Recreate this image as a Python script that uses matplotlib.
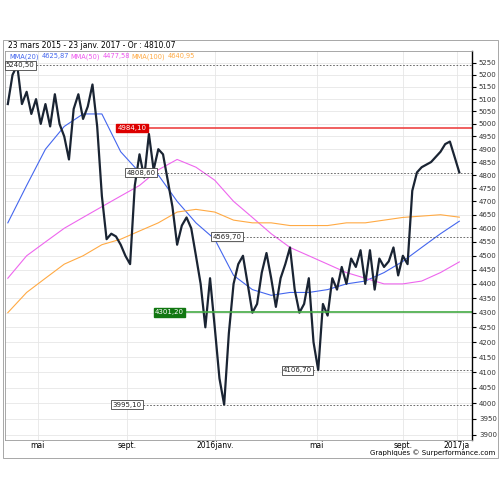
import numpy as np
import matplotlib.pyplot as plt

price = [5080, 5200, 5240, 5080, 5130, 5040, 5100, 5000, 5080, 4990, 5120, 5000, 4950, 4860,
         5060, 5120, 5020, 5070, 5160, 4990, 4720, 4560, 4580, 4570, 4540, 4500, 4470, 4760,
         4880, 4790, 4960, 4820, 4900, 4880, 4780, 4680, 4540, 4610, 4640, 4600, 4500, 4400,
         4250, 4420, 4250, 4080, 3995, 4230, 4400, 4470, 4500, 4400, 4300, 4330, 4440, 4510,
         4420, 4320, 4420, 4470, 4530, 4380, 4300, 4330, 4420, 4200, 4107, 4330, 4290, 4420,
         4380, 4460, 4400, 4490, 4460, 4520, 4400, 4520, 4380, 4490, 4460, 4480, 4530, 4430,
         4500, 4470, 4740, 4810, 4830, 4840, 4850, 4870, 4890, 4920, 4930, 4870, 4810]
ma_idx = [0, 4, 8, 12, 16, 20, 24, 28, 32, 36, 40, 44, 48, 52, 56, 60, 64, 68, 72, 76, 80, 84, 88, 92, 96]
mma20 = [4620, 4760, 4900, 4990, 5040, 5040, 4890, 4810, 4800, 4700, 4620, 4560, 4430, 4380,
         4360, 4370, 4370, 4380, 4400, 4410, 4440, 4480, 4530, 4580, 4626]
mma50 = [4420, 4500, 4550, 4600, 4640, 4680, 4720, 4760, 4820, 4860, 4830, 4780, 4700, 4640,
         4580, 4530, 4500, 4470, 4440, 4420, 4400, 4400, 4410, 4440, 4478]
mma100 = [4300, 4370, 4420, 4470, 4500, 4540, 4560, 4590, 4620, 4660, 4670, 4660, 4630, 4620,
          4620, 4610, 4610, 4610, 4620, 4620, 4630, 4640, 4645, 4650, 4641]

month_pos = [6.4, 25.3, 44, 65.7, 84, 95.5]
month_lbl = ['mai', 'sept.', '2016janv.', 'mai', 'sept.', '2017ja']

# level: (value, label x-position, colour of box or None)
levels = [(5240.50, -0.4, None), (4984.10, 23.3, 'red'), (4808.60, 25.3, None),
          (4569.70, 43.6, None), (4301.20, 31.3, 'green'), (4106.70, 58.5, None),
          (3995.10, 22.3, None)]

fig = plt.figure(figsize=(5, 5), dpi=100)
ax = fig.add_axes([0.01, 0.12, 0.934, 0.778])
ax.set_yscale('log')
x = np.arange(len(price))
ax.plot(ma_idx, mma20, color='#4466ee', lw=0.8)
ax.plot(ma_idx, mma50, color='#ee66ee', lw=0.8)
ax.plot(ma_idx, mma100, color='#ffaa44', lw=0.8)
ax.plot(x, price, color='#1a2433', lw=1.6)

for v, lx, c in levels:
    txt = ('%.2f' % v).replace('.', ',')
    if c == 'red':
        ax.hlines(v, lx, 98.7, color='#ee4444', lw=1.2)
        ax.text(lx, v, txt, fontsize=5, color='white', va='center',
                bbox=dict(fc='#dd0000', ec='#dd0000', pad=1))
    elif c == 'green':
        ax.hlines(v, lx, 98.7, color='#44aa44', lw=1.2)
        ax.text(lx, v, txt, fontsize=5, color='white', va='center',
                bbox=dict(fc='#117711', ec='#117711', pad=1))
    else:
        ax.hlines(v, lx, 98.7, color='#555555', lw=0.6, ls=(0, (2, 2)))
        ax.text(lx, v, txt, fontsize=5, color='#222222', va='center',
                bbox=dict(fc='white', ec='#444444', pad=1, lw=0.6))

ax.set_xlim(-0.6, 98.7)
ax.set_ylim(3884, 5300)
ax.set_xticks(month_pos)
ax.set_xticklabels(month_lbl, fontsize=5.5)
ticks = np.arange(3900, 5251, 50)
ax.set_yticks(ticks)
ax.set_yticklabels([str(t) for t in ticks])
ax.yaxis.set_minor_locator(plt.NullLocator())
ax.yaxis.tick_right()
ax.tick_params(axis='y', labelsize=5, length=3, pad=2, labelcolor='#333333')
ax.tick_params(axis='x', length=0, pad=1)
ax.grid(True, color='#e6e6e6', lw=0.6)
ax.set_axisbelow(True)
for s in ['top', 'left', 'bottom']:
    ax.spines[s].set_color('#999999')
    ax.spines[s].set_linewidth(0.6)
ax.spines['right'].set_linewidth(1)

fig.text(0.015, 0.905, '23 mars 2015 - 23 janv. 2017 - Or : 4810.07', fontsize=5.5)
fig.text(0.018, 0.884, 'MMA(20)', fontsize=4.8, color='#4466ee')
fig.text(0.084, 0.884, '4625,87', fontsize=4.8, color='#4466ee')
fig.text(0.14, 0.884, 'MMA(50)', fontsize=4.8, color='#ee55ee')
fig.text(0.206, 0.884, '4477,58', fontsize=4.8, color='#ee55ee')
fig.text(0.262, 0.884, 'MMA(100)', fontsize=4.8, color='#ffaa44')
fig.text(0.336, 0.884, '4640,95', fontsize=4.8, color='#ffaa44')
fig.text(0.99, 0.09, 'Graphiques \u00a9 Surperformance.com', fontsize=5, ha='right')
fig.add_artist(plt.Rectangle((0.005, 0.085), 0.99, 0.835, transform=fig.transFigure,
                             fill=False, ec='#999999', lw=0.6))
fig.savefig('out.png', dpi=100)
